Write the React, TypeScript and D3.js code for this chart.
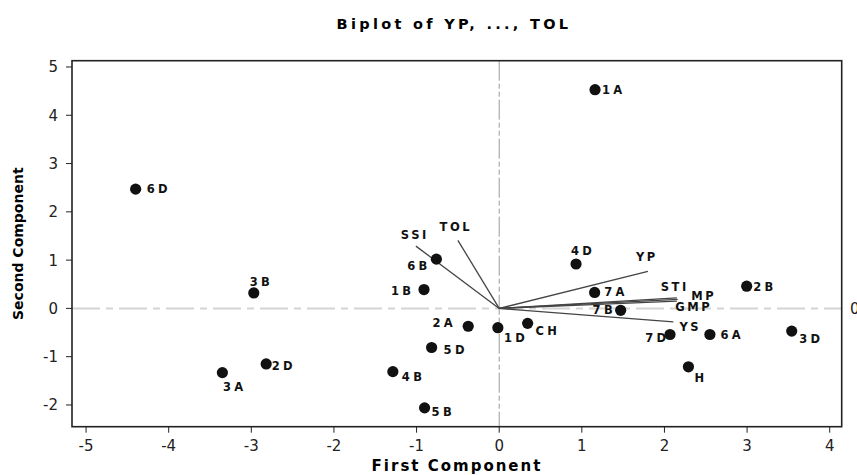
import * as d3 from 'd3';
import React from 'react';

// observations (scores on first / second component)
const obsNames = ['1A', '6D', '3B', '6B', '1B', '4D', '7A', '7B', '2B', '7D', '6A', '3D', 'H', '2A', '1D', 'CH', '5D', '5B', '3A', '2D', '4B'];
const obsPc1 = [1.16, -4.4, -2.97, -0.76, -0.91, 0.93, 1.155, 1.47, 2.995, 2.067, 2.55, 3.54, 2.29, -0.375, -0.016, 0.344, -0.818, -0.903, -3.35, -2.82, -1.287];
const obsPc2 = [4.53, 2.47, 0.32, 1.02, 0.39, 0.92, 0.33, -0.04, 0.46, -0.54, -0.54, -0.47, -1.21, -0.37, -0.4, -0.31, -0.81, -2.06, -1.33, -1.15, -1.31];

// variable loadings
const varNames = ['YP', 'STI', 'MP', 'GMP', 'YS', 'SSI', 'TOL'];
const varPc1 = [1.8, 2.15, 2.16, 2.15, 2.107, -1.008, -0.5];
const varPc2 = [0.766, 0.22, 0.186, 0.15, -0.277, 1.29, 1.41];

const xTicks = [-5, -4, -3, -2, -1, 0, 1, 2, 3, 4];
const yTicks = [-2, -1, 0, 1, 2, 3, 4, 5];

// label nudges in px: [dx, dy, anchor]
const obsNudge: Record<string, [number, number, string]> = {
  '1A': [7, 4, 'start'],
  '6D': [11, 4, 'start'],
  '3B': [-4, -7, 'start'],
  '6B': [-9, 11, 'end'],
  '1B': [-13, 5, 'end'],
  '4D': [-5, -8.5, 'start'],
  '7A': [9.5, 4, 'start'],
  '7B': [-8, 4, 'end'],
  '2B': [6.5, 5, 'start'],
  '7D': [-4, 8, 'end'],
  '6A': [10.5, 5, 'start'],
  '3D': [7.5, 12, 'start'],
  H: [6, 15, 'start'],
  '2A': [-15.5, 0.5, 'end'],
  '1D': [6, 14, 'start'],
  CH: [8, 12, 'start'],
  '5D': [12, 6, 'start'],
  '5B': [7, 8, 'start'],
  '3A': [0.5, 18, 'start'],
  '2D': [5.5, 6, 'start'],
  '4B': [9, 9.5, 'start'],
};
const varNudge: Record<string, [number, number]> = {
  YP: [-1, -10],
  STI: [-2, -7],
  MP: [26, 0.5],
  GMP: [17, 9.5],
  YS: [17, 9],
  SSI: [-1, -7],
  TOL: [-2, -9],
};

const W = 857;
const H = 475;
const plot = { left: 72, right: 841.7, top: 60.7, bottom: 426.7 };
const font = '"DejaVu Sans", Verdana, sans-serif';

export default function App() {
  const x = d3.scaleLinear().domain([-5.17, 4.145]).range([plot.left, plot.right]);
  const y = d3.scaleLinear().domain([-2.45, 5.13]).range([plot.bottom, plot.top]);
  const ls = 3.3; // letter spacing of point labels

  return (
    <svg width={W} height={H} style={{ position: 'absolute', left: 0, top: 0, background: '#fff' }} fontFamily={font}>
      <text x={454} y={29} textAnchor="middle" fontSize={14.5} fontWeight="bold" letterSpacing={3.3}>
        Biplot of YP, ..., TOL
      </text>

      {/* reference lines */}
      <line x1={plot.left} x2={plot.right} y1={y(0)} y2={y(0)} stroke="#d4d4d4" strokeWidth={2} strokeDasharray="28,6,7,6" />
      <line x1={x(0)} x2={x(0)} y1={plot.top} y2={plot.bottom} stroke="#9a9a9a" strokeWidth={1} strokeDasharray="20,3,5,3,5,3" />
      <text x={850} y={y(0) + 6} fontSize={15} fill="#222">0</text>

      {/* loading vectors */}
      {varNames.map((n, i) => (
        <line key={n} x1={x(0)} y1={y(0)} x2={x(varPc1[i])} y2={y(varPc2[i])} stroke="#444" strokeWidth={1.3} />
      ))}
      {varNames.map((n, i) => (
        <text key={n} x={x(varPc1[i]) + varNudge[n][0]} y={y(varPc2[i]) + varNudge[n][1]} textAnchor="middle"
          fontSize={11.5} fontWeight="bold" letterSpacing={2.6} fill="#111">
          {n}
        </text>
      ))}

      {/* scores */}
      {obsNames.map((n, i) => (
        <circle key={n} cx={x(obsPc1[i])} cy={y(obsPc2[i])} r={5.6} fill="#111" />
      ))}
      {obsNames.map((n, i) => {
        const [dx, dy, anchor] = obsNudge[n];
        return (
          <text key={n} x={x(obsPc1[i]) + dx + (anchor === 'end' ? ls : 0)} y={y(obsPc2[i]) + dy} textAnchor={anchor}
            fontSize={11.5} fontWeight="bold" letterSpacing={ls} fill="#111">
            {n}
          </text>
        );
      })}

      {/* frame */}
      <rect x={plot.left} y={plot.top} width={plot.right - plot.left} height={plot.bottom - plot.top}
        fill="none" stroke="#222" strokeWidth={1.6} />

      {/* axes */}
      {xTicks.map((t) => (
        <g key={t}>
          <line x1={x(t)} x2={x(t)} y1={plot.bottom} y2={plot.bottom + 6} stroke="#222" />
          <text x={x(t)} y={451} textAnchor="middle" fontSize={15} fill="#222">{t}</text>
        </g>
      ))}
      {yTicks.map((t) => (
        <g key={t}>
          <line x1={plot.left - 6} x2={plot.left} y1={y(t)} y2={y(t)} stroke="#222" />
          <text x={58} y={y(t) + 5.5} textAnchor="end" fontSize={15} fill="#222">{t}</text>
        </g>
      ))}

      <text x={457} y={471} textAnchor="middle" fontSize={15} fontWeight="bold" letterSpacing={2}>
        First Component
      </text>
      <text transform={`translate(23,${(plot.top + plot.bottom) / 2}) rotate(-90)`} textAnchor="middle" fontSize={14} fontWeight="bold">
        Second Component
      </text>
    </svg>
  );
}
